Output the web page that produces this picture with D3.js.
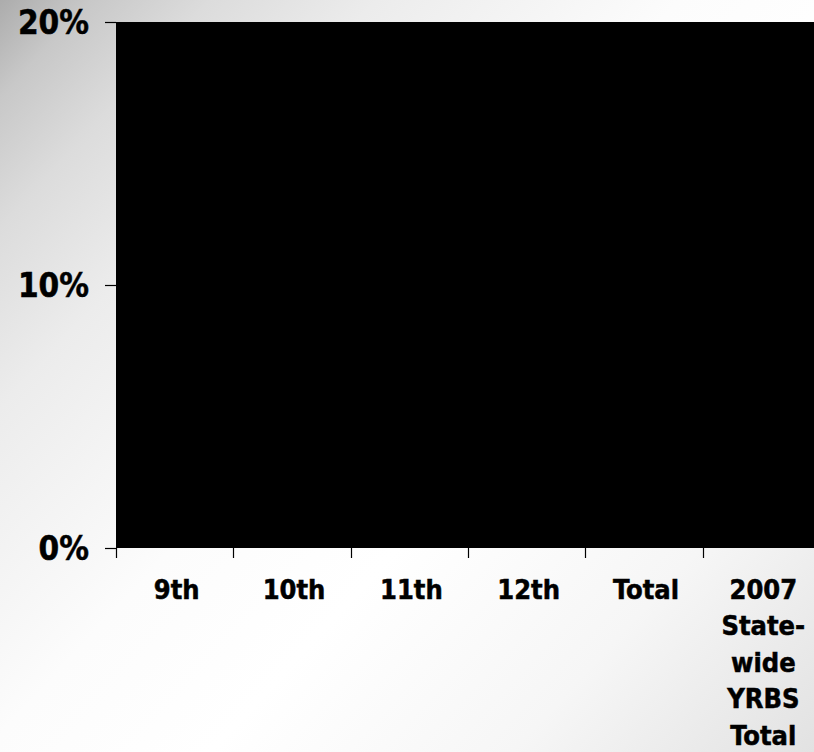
<!DOCTYPE html>
<html>
<head>
<meta charset="utf-8">
<script src="https://cdn.jsdelivr.net/npm/d3@7/dist/d3.min.js"></script>
<style>
  html, body { margin: 0; padding: 0; background: #fff; }
  svg { display: block; }
  text { font-family: "DejaVu Sans Condensed", "DejaVu Sans", sans-serif; font-stretch: condensed; font-weight: bold; fill: #000; stroke: #000; stroke-width: 0.5px; }
</style>
</head>
<body>
<script>
// ---- data ----
const categories = ["9th", "10th", "11th", "12th", "Total", "2007 Statewide YRBS Total"];
const categoryLabels = [["9th"], ["10th"], ["11th"], ["12th"], ["Total"], ["2007", "State-", "wide", "YRBS", "Total"]];
// Bars are black on a black plot area; their heights cannot be read from the picture.
const seriesValues = [0, 0, 0, 0, 0, 0];
const yTicks = [0, 0.10, 0.20];
const yTickLabels = ["0%", "10%", "20%"];

// ---- layout ----
const W = 814, H = 752;
const plot = { left: 116, right: 820, top: 22, bottom: 548 };

const svg = d3.select("body").append("svg").attr("width", W).attr("height", H);

const defs = svg.append("defs");
const grad = defs.append("linearGradient").attr("id", "bg")
  .attr("gradientUnits", "userSpaceOnUse")
  .attr("x1", 0).attr("y1", 0).attr("x2", W).attr("y2", H);
[[0, "#acacac"], [0.06, "#c8c8c8"], [0.14, "#dcdcdc"], [0.25, "#ececec"], [0.45, "#fcfcfc"],
 [0.6, "#ffffff"], [0.8, "#f6f6f6"], [1, "#e2e2e2"]].forEach(([o, c]) =>
  grad.append("stop").attr("offset", o).attr("stop-color", c));

svg.append("rect").attr("width", W).attr("height", H).attr("fill", "url(#bg)");

const x = d3.scaleBand().domain(categories).range([plot.left, plot.right]).padding(0);
const y = d3.scaleLinear().domain([0, 0.2]).range([plot.bottom, plot.top]);

// plot area
svg.append("rect")
  .attr("x", plot.left).attr("y", y(0.2))
  .attr("width", plot.right - plot.left).attr("height", y(0) - y(0.2))
  .attr("fill", "#000");

// bars (black on black)
const bw = x.bandwidth() * 0.5;
svg.append("g").selectAll("rect").data(categories).join("rect")
  .attr("x", (d) => x(d) + (x.bandwidth() - bw) / 2)
  .attr("y", (d, i) => y(seriesValues[i]))
  .attr("width", bw)
  .attr("height", (d, i) => y(0) - y(seriesValues[i]))
  .attr("fill", "#000");

// y axis
const yAxis = d3.axisLeft(y).tickValues(yTicks)
  .tickFormat((d, i) => yTickLabels[i]).tickSize(11).tickPadding(16);
const gy = svg.append("g").attr("transform", `translate(${plot.left},0)`).call(yAxis);
gy.select(".domain").remove();
gy.selectAll(".tick line").attr("stroke", "#000").attr("stroke-width", 1.2);
gy.selectAll(".tick text").attr("font-size", 33).attr("dy", "0.36em").attr("fill", "#000");

// x axis: tick marks at category boundaries
const boundaries = categories.map((c) => x(c)).concat([x(categories[categories.length - 1]) + x.bandwidth()]);
svg.append("g").selectAll("line").data(boundaries).join("line")
  .attr("x1", (d) => Math.round(d) + 0.5).attr("x2", (d) => Math.round(d) + 0.5)
  .attr("y1", y(0)).attr("y2", y(0) + 10)
  .attr("stroke", "#000").attr("stroke-width", 1.2);

// x labels
const xl = svg.append("g").selectAll("text").data(categories).join("text")
  .attr("text-anchor", "middle")
  .attr("font-size", 27)
  .attr("transform", (d) => `translate(${x(d) + x.bandwidth() / 2 + 2},599)`);
xl.each(function (d, i) {
  const t = d3.select(this);
  categoryLabels[i].forEach((line, k) => {
    t.append("tspan").attr("x", 0).attr("y", k * 36.4).text(line);
  });
});
</script>
</body>
</html>
